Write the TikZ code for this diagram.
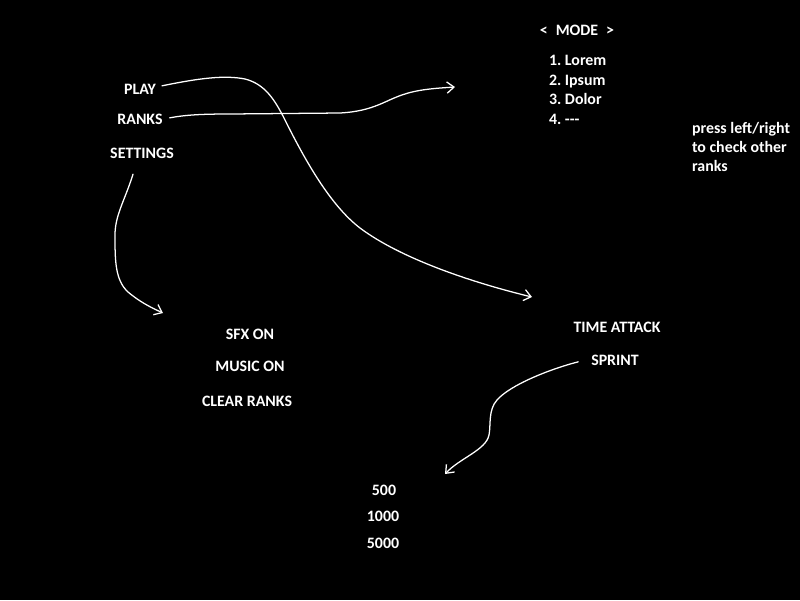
\documentclass[tikz,border=0pt]{standalone}
\usepackage{fontspec}
\setmainfont{Carlito}
\usetikzlibrary{arrows.meta}

\begin{document}
\begin{tikzpicture}[x=0.025cm, y=-0.025cm,
		menu/.style={text=white, font=\fontsize{11.3}{13.5}\selectfont\bfseries\frenchspacing, inner sep=2pt, anchor=base},
		scribble/.style={draw=white, line width=0.9pt, line cap=round, -{Straight Barb[length=5pt,width=8pt]}}]
		%%%%% START %%%%%
		
		\fill[black] (0, 0) rectangle (800, 600);
		
		\node[menu] (play) at (140, 94) {PLAY};
		\node[menu] (ranks) at (140, 124) {RANKS};
		\node[menu] (settings) at (142, 158) {SETTINGS};
		
		\node[menu] (mode) at (577, 35) {<\enspace MODE\enspace >};
		\node[menu, anchor=base west] (lorem) at (546, 65) {1. Lorem};
		\node[menu, anchor=base west] (ipsum) at (546, 85) {2. Ipsum};
		\node[menu, anchor=base west] (dolor) at (546, 104) {3. Dolor};
		\node[menu, anchor=base west] (empty) at (546, 124) {4. {-}{-}{-}};
		\node[menu, anchor=base west, align=left] (hint) at (689, 171) {press left/right\\to check other\\ranks};
		
		\node[menu] (sfx) at (250, 339) {SFX ON};
		\node[menu] (music) at (250, 371) {MUSIC ON};
		\node[menu] (clear) at (247, 406) {CLEAR RANKS};
		
		\node[menu] (attack) at (617, 332) {TIME ATTACK};
		\node[menu] (sprint) at (615, 365) {SPRINT};
		
		\node[menu] (five) at (384, 495) {500};
		\node[menu] (thousand) at (383, 521) {1000};
		\node[menu] (fivek) at (383, 548) {5000};
		
		\coordinate (modeIn) at (455, 87);
		\coordinate (attackIn) at (532, 297);
		\coordinate (soundIn) at (163, 313);
		\coordinate (scoreIn) at (445, 474);
		
		\draw[scribble] ([shift={(3,-3)}]play.east) .. controls (200, 78) and (225, 75) .. (245, 79)
			.. controls (265, 84) and (275, 100) .. (285, 120)
			.. controls (305, 160) and (330, 205) .. (360, 228)
			.. controls (400, 258) and (470, 282) .. (attackIn);
		
		\draw[scribble] ([shift={(4,-1)}]ranks.east) .. controls (185, 115) and (200, 114) .. (230, 114)
			-- (340, 113) .. controls (375, 111) and (385, 100) .. (405, 94)
			.. controls (420, 89) and (440, 88) .. (modeIn);
		
		\draw[scribble] ([shift={(-9,13)}]settings.south) .. controls (125, 200) and (115, 215) .. (115, 235)
			.. controls (115, 260) and (115, 280) .. (128, 292)
			.. controls (140, 302) and (150, 307) .. (soundIn);
		
		\draw[scribble] ([shift={(-10,2)}]sprint.west) .. controls (550, 369) and (510, 385) .. (497, 400)
			.. controls (488, 410) and (491, 425) .. (489, 435)
			.. controls (486, 450) and (460, 458) .. (scoreIn);
		
		%%%%% END %%%%%
	\end{tikzpicture}
\end{document}
